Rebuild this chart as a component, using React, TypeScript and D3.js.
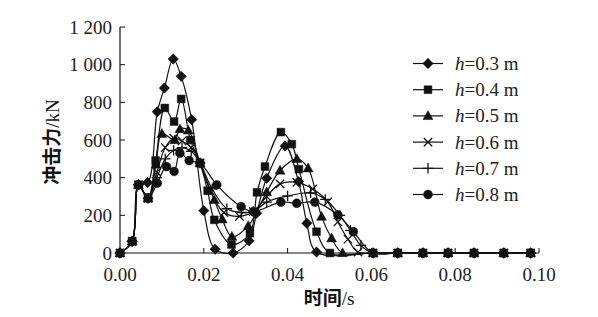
import * as d3 from "d3";

const tailTimes = [0.0604, 0.0663, 0.0723, 0.0783, 0.0845, 0.0916, 0.098];

const h03Time = [0, 0.0029, 0.0044, 0.0066, 0.0089, 0.0106, 0.0127, 0.0146, 0.0171, 0.02, 0.0227, 0.027, 0.0308, 0.0326, 0.035, 0.0394, 0.0426, 0.0446, 0.0469, 0.0604, 0.0663, 0.0723, 0.0783, 0.0845, 0.0916, 0.098];
const h03Force = [0, 62, 362, 374, 750, 876, 1030, 938, 708, 225, 20, 0, 65, 211, 397, 568, 379, 158, 5, 0, 0, 0, 0, 0, 0, 0];

const h04Time = [0, 0.0029, 0.0044, 0.0067, 0.0085, 0.0107, 0.0129, 0.0146, 0.0168, 0.0191, 0.0209, 0.0225, 0.0266, 0.031, 0.0327, 0.0346, 0.0384, 0.041, 0.0427, 0.0469, 0.0501, 0.0604, 0.0663, 0.0723, 0.0783, 0.0845, 0.0916, 0.098];
const h04Force = [0, 62, 362, 295, 491, 770, 698, 818, 600, 478, 331, 176, 45, 105, 322, 459, 642, 578, 445, 113, 0, 0, 0, 0, 0, 0, 0, 0];

const h05Time = [0, 0.0029, 0.0044, 0.0067, 0.0086, 0.01, 0.0131, 0.0143, 0.0163, 0.0191, 0.0225, 0.0244, 0.0267, 0.0306, 0.035, 0.0382, 0.0422, 0.0449, 0.0481, 0.0505, 0.0531, 0.0604, 0.0663, 0.0723, 0.0783, 0.0845, 0.0916, 0.098];
const h05Force = [0, 62, 362, 290, 470, 633, 600, 658, 651, 478, 282, 179, 87, 144, 323, 438, 500, 450, 193, 78, 0, 0, 0, 0, 0, 0, 0, 0];

const h06Time = [0, 0.0029, 0.0044, 0.0067, 0.0088, 0.0108, 0.0128, 0.0148, 0.017, 0.0191, 0.0215, 0.0248, 0.0285, 0.0318, 0.035, 0.0382, 0.0422, 0.046, 0.0496, 0.052, 0.0544, 0.0568, 0.0604, 0.0663, 0.0723, 0.0783, 0.0845, 0.0916, 0.098];
const h06Force = [0, 62, 362, 290, 430, 560, 610, 595, 560, 478, 330, 215, 195, 220, 300, 367, 375, 340, 272, 165, 73, 5, 0, 0, 0, 0, 0, 0, 0];

const h07Time = [0, 0.0029, 0.0044, 0.0067, 0.0088, 0.0108, 0.0128, 0.0148, 0.017, 0.0191, 0.022, 0.0255, 0.029, 0.0318, 0.035, 0.04, 0.0455, 0.049, 0.0525, 0.055, 0.0575, 0.0604, 0.0663, 0.0723, 0.0783, 0.0845, 0.0916, 0.098];
const h07Force = [0, 62, 362, 290, 400, 500, 545, 560, 540, 478, 340, 235, 215, 220, 270, 303, 319, 285, 200, 120, 40, 0, 0, 0, 0, 0, 0, 0];

const h08Time = [0, 0.0029, 0.0044, 0.0067, 0.0089, 0.0111, 0.0129, 0.0143, 0.0165, 0.0191, 0.0231, 0.0289, 0.0318, 0.0384, 0.0422, 0.0465, 0.052, 0.0557, 0.0604, 0.0663, 0.0723, 0.0783, 0.0845, 0.0916, 0.098];
const h08Force = [0, 62, 362, 290, 371, 459, 433, 530, 491, 477, 362, 246, 220, 270, 264, 270, 202, 113, 0, 0, 0, 0, 0, 0, 0];

const seriesLabels = ["0.3", "0.4", "0.5", "0.6", "0.7", "0.8"];
const seriesShapes = ["diamond", "square", "triangle", "cross", "plus", "circle"];
const seriesTimes = [h03Time, h04Time, h05Time, h06Time, h07Time, h08Time];
const seriesForces = [h03Force, h04Force, h05Force, h06Force, h07Force, h08Force];

const xTicks = [0, 0.02, 0.04, 0.06, 0.08, 0.1];
const yTicks = [0, 200, 400, 600, 800, 1000, 1200];

const W = 598;
const H = 317;
const serif = "'Liberation Serif', 'Times New Roman', serif";
const cjk = "'Noto Sans CJK SC', sans-serif";

// marker path centred on 0,0
function markerPath(shape: string, s: number) {
  switch (shape) {
    case "diamond":
      return `M0,${-s}L${s},0L0,${s}L${-s},0Z`;
    case "square":
      return `M${-s * 0.75},${-s * 0.75}h${s * 1.5}v${s * 1.5}h${-s * 1.5}Z`;
    case "triangle":
      return `M0,${-s}L${s * 0.95},${s * 0.7}L${-s * 0.95},${s * 0.7}Z`;
    case "cross":
      return `M${-s * 0.8},${-s * 0.8}L${s * 0.8},${s * 0.8}M${s * 0.8},${-s * 0.8}L${-s * 0.8},${s * 0.8}`;
    case "plus":
      return `M${-s},0L${s},0M0,${-s}L0,${s}`;
    default:
      return d3.symbol(d3.symbolCircle, Math.PI * (s * 0.85) ** 2)() || "";
  }
}

function Marker({ shape, x, y }: { shape: string; x: number; y: number }) {
  const open = shape === "cross" || shape === "plus";
  return (
    <path
      d={markerPath(shape, 5.2)}
      transform={`translate(${x},${y})`}
      fill={open ? "none" : "#111"}
      stroke="#111"
      strokeWidth={open ? 1.3 : 0.5}
    />
  );
}

export default function App() {
  const x = d3.scaleLinear().domain([0, 0.1]).range([120, 539]);
  const y = d3.scaleLinear().domain([0, 1200]).range([253, 27]);

  const line = d3
    .line<[number, number]>()
    .x((d) => x(d[0]))
    .y((d) => y(d[1]))
    .curve(d3.curveCatmullRom.alpha(0.5));

  const series = seriesLabels.map((label, i) => ({
    label,
    shape: seriesShapes[i],
    points: seriesTimes[i].map((t, j) => [t, seriesForces[i][j]] as [number, number]),
  }));

  return (
    <svg
      width={W}
      height={H}
      style={{ position: "absolute", left: 0, top: 0, background: "#fff" }}
      fontFamily={serif}
    >
      {/* axes */}
      <line x1={x(0)} x2={x(0.1)} y1={y(0)} y2={y(0)} stroke="#111" strokeWidth={1.2} />
      <line x1={x(0)} x2={x(0)} y1={y(0)} y2={y(1200)} stroke="#111" strokeWidth={1.2} />
      {xTicks.map((t) => (
        <g key={`x${t}`}>
          <line x1={x(t)} x2={x(t)} y1={y(0)} y2={y(0) - 5} stroke="#111" strokeWidth={1} />
          <text x={x(t)} y={281} textAnchor="middle" fontSize={19} fill="#222">
            {t.toFixed(2)}
          </text>
        </g>
      ))}
      {yTicks.map((v) => (
        <g key={`y${v}`}>
          <line x1={x(0)} x2={x(0) + 5} y1={y(v)} y2={y(v)} stroke="#111" strokeWidth={1} />
          <text x={112} y={y(v) + 6.5} textAnchor="end" fontSize={19} fill="#222">
            {v >= 1000 ? `${Math.floor(v / 1000)} ${String(v % 1000).padStart(3, "0")}` : v}
          </text>
        </g>
      ))}

      {/* axis titles */}
      <text x={329} y={305} textAnchor="middle" fontSize={19} fill="#111">
        <tspan fontFamily={cjk} fontWeight={700}>时间</tspan>
        <tspan>/s</tspan>
      </text>
      <text
        transform={`translate(59,142) rotate(-90)`}
        textAnchor="middle"
        fontSize={19}
        fill="#111"
      >
        <tspan fontFamily={cjk} fontWeight={700}>冲击力</tspan>
        <tspan>/kN</tspan>
      </text>

      {/* lines */}
      {series.map((s) => (
        <path key={`l${s.label}`} d={line(s.points) || ""} fill="none" stroke="#111" strokeWidth={1.2} />
      ))}
      {series.map((s) =>
        s.points.map((p, j) => <Marker key={`m${s.label}-${j}`} shape={s.shape} x={x(p[0])} y={y(p[1])} />)
      )}

      {/* legend */}
      {series.map((s, i) => {
        const ly = 63.5 + i * 26.2;
        return (
          <g key={`lg${s.label}`}>
            <line x1={413} x2={443} y1={ly} y2={ly} stroke="#111" strokeWidth={1.2} />
            <Marker shape={s.shape} x={428} y={ly} />
            <text x={455} y={ly + 6.5} fontSize={19} fill="#222">
              <tspan fontStyle="italic">h</tspan>
              <tspan>={s.label} m</tspan>
            </text>
          </g>
        );
      })}
    </svg>
  );
}
